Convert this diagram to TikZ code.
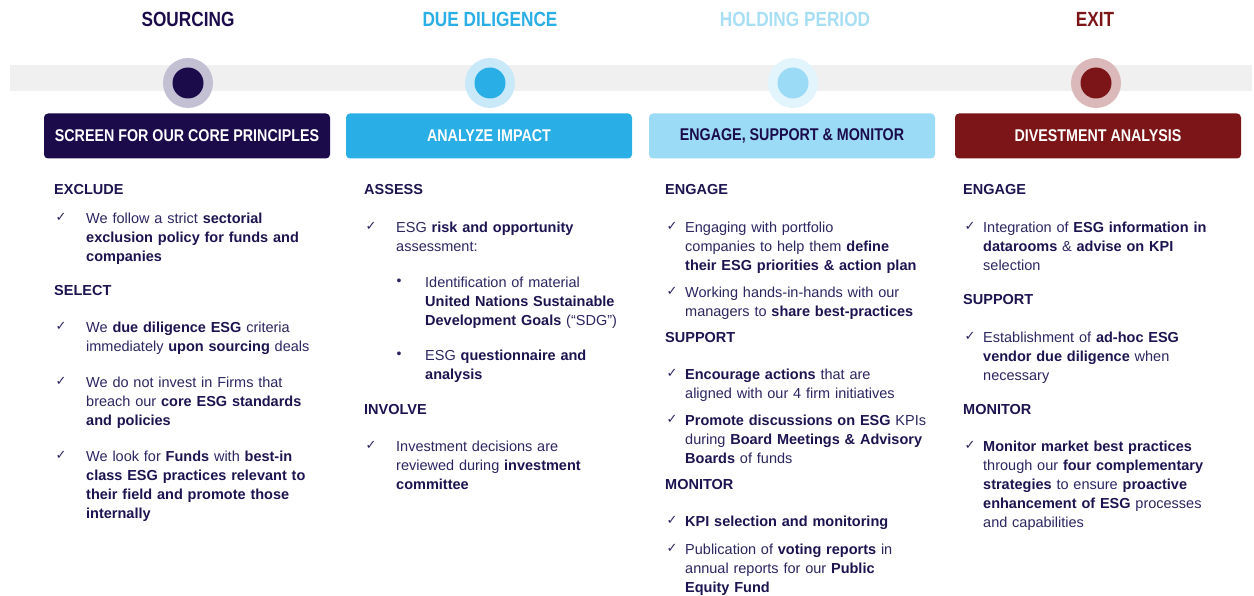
\documentclass[tikz,border=0pt]{standalone}
\usepackage{fontspec}
\setmainfont{Liberation Sans}
\newfontfamily\condf{Liberation Sans}[FakeStretch=0.84]
\newfontfamily\dejavu{DejaVu Sans}
\definecolor{navy}{HTML}{1B0B4B}
\definecolor{dblue}{HTML}{2AAEE6}
\definecolor{lblue}{HTML}{9CDBF5}
\definecolor{ltitle}{HTML}{A8DEF4}
\definecolor{dred}{HTML}{7C1517}
\definecolor{band}{HTML}{F0F0F0}
\definecolor{ringnavy}{HTML}{C4C0D3}
\definecolor{ringblue}{HTML}{C9E9F9}
\definecolor{ringlight}{HTML}{E2F4FC}
\definecolor{ringred}{HTML}{DBB8B9}
\definecolor{txt}{HTML}{2B2560}
\definecolor{txtb}{HTML}{1C1450}
\newcommand{\bb}[1]{{\bfseries\color{txtb}#1}}
\tikzset{
  title/.style={font=\condf\bfseries\fontsize{20.5}{24}\selectfont, inner sep=0pt},
  phasebox/.style={rounded corners=4pt, minimum width=286pt, minimum height=45pt, inner sep=0pt,
     font=\condf\bfseries\fontsize{17}{20}\selectfont},
  ring/.style={circle, minimum size=50pt, inner sep=0pt},
  dot/.style={circle, minimum size=31pt, inner sep=0pt},
  head/.style={anchor=west, inner sep=0pt, font=\bfseries\fontsize{14.5}{18}\selectfont, text=txtb},
  body/.style={anchor=north west, inner sep=0pt, text width=270pt, align=left,
     font=\fontsize{14.5}{19}\selectfont, text=txt},
  chk/.style={inner sep=0pt, font=\dejavu\fontsize{13}{14}\selectfont, text=txt},
  bul/.style={inner sep=0pt, font=\fontsize{14}{16}\selectfont, text=txt},
}
\newcommand{\para}[4]{\node[body] (#1) at (#2,#3-7.8) {\strut#4};}
\begin{document}
\begin{tikzpicture}[x=1pt,y=-1pt]
\useasboundingbox (0,0) rectangle (1254,596);
% band
\fill[band] (10,65) rectangle (1252,91);
% titles
\node[title, text=navy] (t1) at (188,19) {SOURCING};
\node[title, text=dblue] (t2) at (490,19) {DUE DILIGENCE};
\node[title, text=ltitle] (t3) at (795,19) {HOLDING PERIOD};
\node[title, text=dred] (t4) at (1095,19) {EXIT};
% circles
\node[ring, fill=ringnavy] (r1) at (188,83) {};
\node[dot, fill=navy] (d1) at (188,83) {};
\node[ring, fill=ringblue] (r2) at (490,83) {};
\node[dot, fill=dblue] (d2) at (490,83) {};
\node[ring, fill=ringlight] (r3) at (793,83) {};
\node[dot, fill=lblue] (d3) at (793,83) {};
\node[ring, fill=ringred] (r4) at (1096,83) {};
\node[dot, fill=dred] (d4) at (1096,83) {};
% boxes
\node[phasebox, fill=navy, text=white] (b1) at (187,136) {SCREEN FOR OUR CORE PRINCIPLES};
\node[phasebox, fill=dblue, text=white] (b2) at (489,136) {ANALYZE IMPACT};
\node[phasebox, fill=lblue, text=navy] (b3) at (792,136) {ENGAGE, SUPPORT \& MONITOR};
\node[phasebox, fill=dred, text=white] (b4) at (1098,136) {DIVESTMENT ANALYSIS};
% column 1
\node[head] (h1a) at (54,190) {EXCLUDE};
\node[chk] (k1a) at (61,217) {✓};
\para{p1a}{86}{218}{We follow a strict \bb{sectorial}\\\bb{exclusion policy for funds and}\\\bb{companies}}
\node[head] (h1b) at (54,291) {SELECT};
\node[chk] (k1b) at (61,326) {✓};
\para{p1b}{86}{327}{We \bb{due diligence ESG} criteria\\immediately \bb{upon sourcing} deals}
\node[chk] (k1c) at (61,381) {✓};
\para{p1c}{86}{382}{We do not invest in Firms that\\breach our \bb{core ESG standards}\\\bb{and policies}}
\node[chk] (k1d) at (61,455) {✓};
\para{p1d}{86}{456}{We look for \bb{Funds} with \bb{best-in}\\\bb{class ESG practices relevant to}\\\bb{their field and promote those}\\\bb{internally}}
% column 2
\node[head] (h2a) at (364,190) {ASSESS};
\node[chk] (k2a) at (371,226) {✓};
\para{p2a}{396}{227}{ESG \bb{risk and opportunity}\\assessment:}
\node[bul] (u2a) at (399,282) {•};
\para{p2b}{425}{282}{Identification of material\\\bb{United Nations Sustainable}\\\bb{Development Goals} (“SDG”)}
\node[bul] (u2b) at (399,355) {•};
\para{p2c}{425}{355}{ESG \bb{questionnaire and}\\\bb{analysis}}
\node[head] (h2b) at (364,410) {INVOLVE};
\node[chk] (k2b) at (371,445) {✓};
\para{p2d}{396}{446}{Investment decisions are\\reviewed during \bb{investment}\\\bb{committee}}
% column 3
\node[head] (h3a) at (665,190) {ENGAGE};
\node[chk] (k3a) at (672,226) {✓};
\para{p3a}{685}{227}{Engaging with portfolio\\companies to help them \bb{define}\\\bb{their ESG priorities \& action plan}}
\node[chk] (k3b) at (672,291) {✓};
\para{p3b}{685}{292}{Working hands-in-hands with our\\managers to \bb{share best-practices}}
\node[head] (h3b) at (665,338) {SUPPORT};
\node[chk] (k3c) at (672,373) {✓};
\para{p3c}{685}{374}{\bb{Encourage actions} that are\\aligned with our 4 firm initiatives}
\node[chk] (k3d) at (672,419) {✓};
\para{p3d}{685}{420}{\bb{Promote discussions on ESG} KPIs\\during \bb{Board Meetings \& Advisory}\\\bb{Boards} of funds}
\node[head] (h3c) at (665,485) {MONITOR};
\node[chk] (k3e) at (672,520) {✓};
\para{p3e}{685}{521}{\bb{KPI selection and monitoring}}
\node[chk] (k3f) at (672,548) {✓};
\para{p3f}{685}{549}{Publication of \bb{voting reports} in\\annual reports for our \bb{Public}\\\bb{Equity Fund}}
% column 4
\node[head] (h4a) at (963,190) {ENGAGE};
\node[chk] (k4a) at (970,226) {✓};
\para{p4a}{983}{227}{Integration of \bb{ESG information in}\\\bb{datarooms} \& \bb{advise on KPI}\\selection}
\node[head] (h4b) at (963,300) {SUPPORT};
\node[chk] (k4b) at (970,336) {✓};
\para{p4b}{983}{337}{Establishment of \bb{ad-hoc ESG}\\\bb{vendor due diligence} when\\necessary}
\node[head] (h4c) at (963,410) {MONITOR};
\node[chk] (k4c) at (970,445) {✓};
\para{p4c}{983}{446}{\bb{Monitor market best practices}\\through our \bb{four complementary}\\\bb{strategies} to ensure \bb{proactive}\\\bb{enhancement of ESG} processes\\and capabilities}
\end{tikzpicture}
\end{document}
